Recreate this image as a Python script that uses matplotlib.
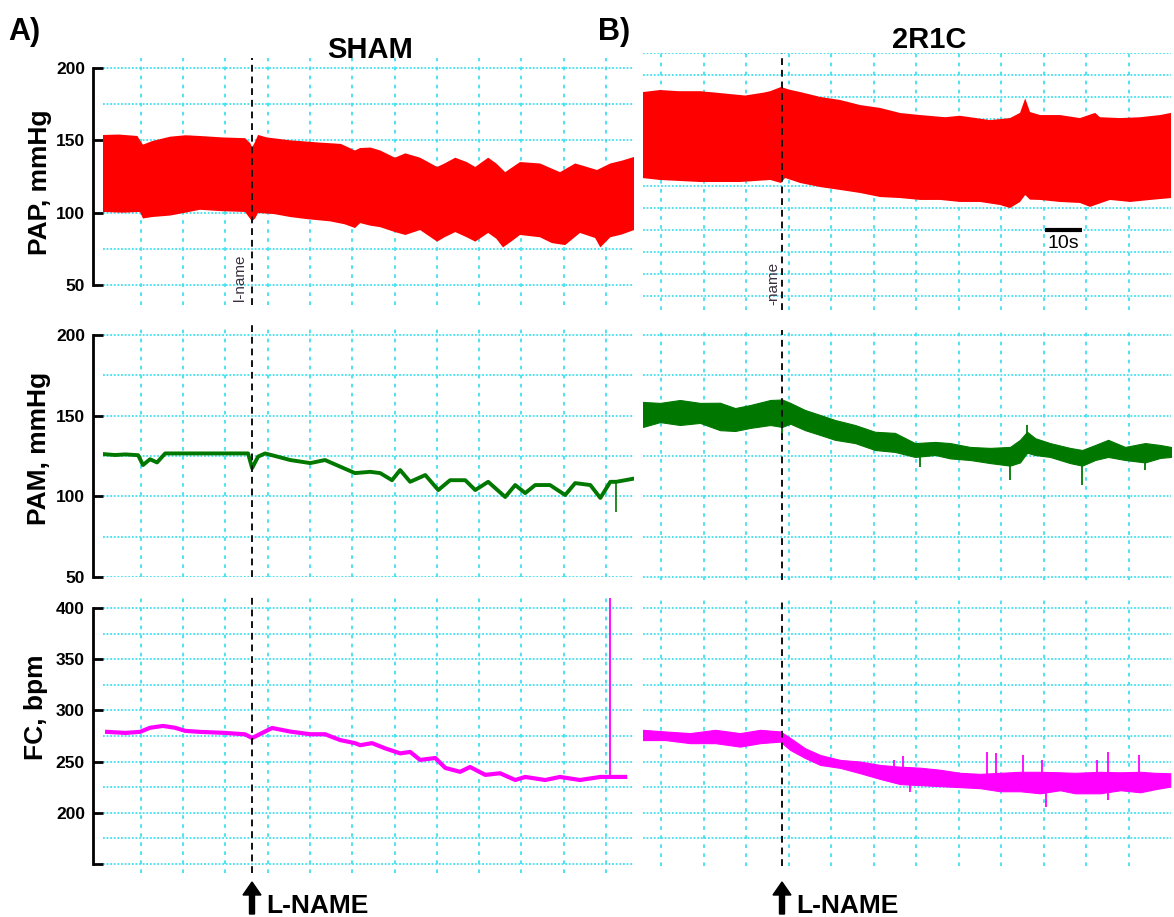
import numpy as np
import matplotlib
matplotlib.use("Agg")
import matplotlib.pyplot as plt
from matplotlib.patches import FancyArrow

plt.rcParams['font.family'] = ['Liberation Sans', 'DejaVu Sans']

# time in s, relative to the L-NAME injection (t = 0)
# ---- SHAM ----
sham_pap_hi_t = [-40.3, -36, -31, -30.3, -29.5, -27, -22.2, -18, -14.1, -8, -1.9, -0.5, 0, 0.8, 1.6, 4,
                 10.3, 13, 18, 21.1, 24, 27.8, 29.2, 32, 34.6, 38.6, 41.4, 45.4, 50.0, 52, 54.9, 58,
                 60.3, 63.8, 66, 68.4, 72.4, 77.8, 80.5, 83.2, 87.3, 90, 93.2, 96.8, 100, 103.2]
sham_pap_hi = [153.7, 154, 153, 150, 147, 149.5, 152.5, 153.5, 153, 152, 151.5, 148, 145, 149, 153.7, 152,
               150, 149.5, 148.5, 148, 147.5, 143, 144.7, 145, 143, 138, 141, 138, 131.6, 134, 138, 135,
               131.6, 138, 134, 128, 135, 134, 131, 128, 134, 132, 129.5, 134, 136, 138.5]
sham_pap_lo_t = [-40.3, -35, -30.3, -29.5, -27, -22.2, -18, -14.1, -8, -1.9, 0, 0.8, 1.6, 6, 10.3, 15,
                 21.1, 25, 27.8, 29.2, 32, 34.6, 38.6, 41.4, 45.4, 50.0, 52, 54.9, 58, 60.3, 63.8, 66,
                 67.8, 70, 72.4, 77.8, 81, 84.6, 88.6, 92.7, 94.1, 96.8, 100, 103.2]
sham_pap_lo = [100.5, 100, 100.5, 96, 97, 98, 100, 102, 101, 100.5, 94, 96, 99.8, 99, 97, 95.5,
               94, 92, 89.4, 92.8, 91, 90, 86.6, 84.6, 88, 80, 83, 86.6, 83, 80, 86, 82,
               76, 80, 84.6, 83, 79, 77.6, 86, 82.5, 76, 83, 85, 88]

sham_pam_t = [-40.3, -37.0, -34.3, -30.8, -29.5, -27.6, -25.7, -23.5, -14.1, -7.3, -1.1, 0, 1.6, 3.5, 6.2,
              10.3, 15.7, 19.7, 23.8, 27.8, 31.9, 34.6, 37.8, 40.0, 42.7, 46.8, 50.3, 53.5, 57.6, 60.3,
              63.8, 68.4, 71.1, 73.8, 76.5, 80.5, 84.6, 87.3, 91.4, 94.1, 96.8, 98.4, 100.8, 103.2]
sham_pam = [126.2, 125.6, 126, 125.5, 119.4, 123, 121, 126.6, 126.6, 126.6, 126.6, 117.5, 124.6, 126.6, 125,
            122.5, 120.6, 122.5, 118.4, 114.4, 115.2, 114.4, 110, 116.3, 109, 113.2, 103.9, 110, 110, 103.9,
            109, 99.6, 107, 102, 107, 107, 100.8, 108.2, 107, 99, 109, 109, 110, 111]
sham_pam_spike = (98.4, 109, 90)

sham_fc_t = [-39.2, -34.3, -30.3, -27.6, -24.1, -20.8, -18.1, -14.1, -7.3, -1.9, 0, 2.2, 5.4, 10.3, 15.7,
             19.7, 23.8, 27.8, 29.2, 32.4, 35.9, 40.0, 42.7, 45.4, 49.5, 52.2, 56.2, 58.9, 63.0, 67.0,
             71.1, 73.8, 79.2, 83.2, 88.6, 94.1, 96.8, 100.8]
sham_fc = [279, 278, 279, 283, 284.8, 283, 280, 279, 278, 276.6, 273, 277, 282.8, 279.3, 276.7,
           276.7, 271, 268, 266, 268, 263, 258, 259.4, 251.6, 253.5, 243.8, 240, 244.7, 237, 238.6,
           232, 235, 232, 235, 232, 235, 235, 235]
sham_fc_spike = (96.8, 235, 410)

# ---- 2R1C ----
r_pap_hi_t = [-37.6, -33.0, -28, -22.2, -16.8, -10.0, -5, -3.2, -0.3, 2, 4.9, 10.3, 15.7, 21.1, 26.5,
              31.9, 37.3, 44.1, 48, 50.8, 56.2, 61.6, 64.3, 65.7, 67.0, 69.7, 75.1, 80.5, 84.6, 85.9,
              91.4, 96.8, 102.2, 105.1]
r_pap_hi = [183.4, 184.8, 184, 184, 182.7, 181, 183, 184, 186.9, 185, 183.4, 180, 177.9, 174.4, 172.4,
            168.9, 167.5, 166, 167, 166, 164, 165.4, 169, 179, 169.6, 167.5, 167.5, 165.4, 169, 166,
            165.4, 166, 167.5, 169]
r_pap_lo_t = [-37.6, -33.0, -22.2, -11.4, -3.2, -0.3, 0.8, 4.9, 10.3, 15.7, 21.1, 26.5, 31.9, 37.3, 42.7,
              48.1, 53.5, 58.9, 61.6, 64.3, 65.7, 67.0, 69.7, 75.1, 80.5, 83.2, 88.6, 94.1, 99.5, 105.1]
r_pap_lo = [123.9, 122.6, 121.2, 121.2, 122.6, 120.5, 124, 120.5, 117.7, 115.7, 113.6, 110.8, 110.1, 108.8, 108.8,
            107.4, 107.4, 105.3, 103.2, 107.4, 112.2, 109, 108.8, 107.4, 106.7, 104, 108.8, 107.4, 108.8, 110.1]

r_pam_t = [-37.6, -33.0, -27.6, -22.2, -16.8, -12.7, -8.6, -3.2, 0, 2.2, 6.2, 10.3, 14.3, 19.7, 25.1,
           30.5, 35.9, 41.4, 45.4, 50.8, 56.2, 61.6, 64.3, 66.2, 68.4, 72.4, 77.8, 81.1, 84.6, 88.1,
           92.7, 98.1, 102.2, 105.1]
r_pam_hi = [158.5, 157.9, 159.7, 157.9, 158, 154.7, 156.6, 159.7, 160, 157.9, 153.5, 150.4, 147.3, 144.2, 140,
            139.3, 133, 133.7, 133, 130.6, 130, 130.6, 135, 140, 136, 133, 130, 128.7, 131.8, 135,
            130.6, 133, 131.8, 130.6]
r_pam_lo = [143, 146, 144.2, 145.5, 141, 140.5, 142.4, 144.2, 143, 145, 141, 138, 135, 133, 128.7,
            127.5, 124.4, 125.6, 123.5, 122.5, 120.6, 119, 121, 127, 125.6, 124.4, 120.6, 119, 122.5, 124.4,
            122.5, 121, 123.8, 124.4]
r_pam_spike_t = [0, 37.3, 61.6, 66.2, 81.1, 98.1]
r_pam_spike_lo = [136, 118, 110, 128, 107, 116]
r_pam_spike_hi = [158, 128, 125, 144, 124, 125]

r_fc_t = [-37.6, -31.6, -24.9, -18.1, -11.4, -5.9, -0.5, 2.2, 6.2, 10.3, 15.7, 21.1, 26.5, 31.9, 37.3,
          42.7, 48.1, 53.5, 58.9, 64.3, 69.7, 75.1, 79.2, 85.9, 91.4, 96.8, 100.8, 104.9]
r_fc_hi = [281, 279.4, 277.8, 281, 277.8, 281, 279.4, 273, 263, 256.4, 251.6, 250, 246.7, 245, 244,
           242, 239, 238, 239, 240, 240, 239.5, 239, 240, 239.5, 240, 239, 238.6]
r_fc_lo = [271, 271, 268, 268, 264.6, 268, 269.5, 261.3, 253.5, 246.7, 243.8, 238.6, 233, 228, 227,
           226, 225, 224, 221, 221, 219, 222, 219, 219, 222, 220, 223, 225.5]
r_fc_spike_t = [30.3, 32.7, 34.6, 55.4, 57.7, 65.0, 70.3, 71.4, 85.0, 88.0, 96.5]
r_fc_spike_lo = [240, 240, 220.6, 225, 225, 225, 225, 206, 225, 212.5, 225]
r_fc_spike_hi = [251.6, 255, 235, 259.4, 258, 256, 251.6, 230, 251.6, 259.4, 256]

RED = '#ff0000'
GREEN = '#007800'
MAGENTA = '#ff00ff'
GRID = '#40e0f0'

W, H = 1174, 917
fig = plt.figure(figsize=(W / 100, H / 100), dpi=100)


def add_ax(x0, y0, x1, y1):
    return fig.add_axes([x0 / W, 1 - y1 / H, (x1 - x0) / W, (y1 - y0) / H])


def style(ax, xlim, ylim, hgrid, vgrid):
    ax.set_xlim(*xlim)
    ax.set_ylim(*ylim)
    for s in ax.spines.values():
        s.set_visible(False)
    ax.set_xticks([])
    ax.set_yticks([])
    for y in hgrid:
        ax.axhline(y, color=GRID, lw=1.3, ls=(0, (1, 1)), zorder=1)
    for x in vgrid:
        ax.axvline(x, color=GRID, lw=1.3, ls=(0, (2, 3)), zorder=1)
    ax.axvline(0, color='#111111', lw=1.4, ls=(0, (3.5, 2.5)), zorder=5)


def left_axis(ax, ticks, labels, lo, hi):
    ax.spines['left'].set_visible(True)
    ax.spines['left'].set_position(('outward', 7))
    ax.spines['left'].set_bounds(lo, hi)
    ax.spines['left'].set_linewidth(2)
    ax.set_yticks(ticks)
    ax.set_yticklabels(labels, fontweight='bold')
    ax.tick_params(axis='y', direction='in', length=7, width=2, pad=6, labelsize=12.5)


xl_left = (-40.3, 103.2)
xl_right = (-37.6, 105.1)
vg_left = -30.08 + 11.43 * np.arange(12)
vg_right = -32.7 + 11.49 * np.arange(12)

# SHAM panels
ax1 = add_ax(103, 58, 634, 305)
style(ax1, xl_left, (36.2, 206.9), np.arange(50, 201, 25), vg_left)
left_axis(ax1, [50, 100, 150, 200], ['50', '100', '150', '200'], 50, 200)
ax1.fill(np.concatenate([sham_pap_hi_t, sham_pap_lo_t[::-1]]),
         np.concatenate([sham_pap_hi, sham_pap_lo[::-1]]), color=RED, lw=0, zorder=3)
ax1.text(-3.2, 54.8, 'l-name', rotation=90, ha='center', va='center', fontsize=11, color='#3a3040')

ax2 = add_ax(103, 325, 634, 577)
style(ax2, xl_left, (50, 206.2), np.arange(50, 201, 25), vg_left)
left_axis(ax2, [50, 100, 150, 200], ['50', '100', '150', '200'], 50, 200)
ax2.plot(sham_pam_t, sham_pam, color=GREEN, lw=2.8, zorder=3)
ax2.vlines(sham_pam_spike[0], sham_pam_spike[2], sham_pam_spike[1], color=GREEN, lw=1.2, zorder=3)

ax3 = add_ax(103, 597, 634, 873)
style(ax3, xl_left, (141.2, 410.7), np.arange(150, 401, 25), vg_left)
left_axis(ax3, [150, 200, 250, 300, 350, 400], ['', '200', '250', '300', '350', '400'], 150, 400)
ax3.plot(sham_fc_t, sham_fc, color=MAGENTA, lw=3, zorder=3)
ax3.vlines(sham_fc_spike[0], sham_fc_spike[1], sham_fc_spike[2], color=MAGENTA, lw=1.3, zorder=3)

# 2R1C panels
ax4 = add_ax(643, 53, 1171, 310)
style(ax4, xl_right, (32.7, 210.4), 210.4 - 15.28 * np.arange(12), vg_right)
ax4.fill(np.concatenate([r_pap_hi_t, r_pap_lo_t[::-1]]),
         np.concatenate([r_pap_hi, r_pap_lo[::-1]]), color=RED, lw=0, zorder=3)
ax4.hlines(88, 71.1, 81.1, color='k', lw=3, zorder=6)
ax4.text(76.1, 79, '10s', ha='center', va='center', fontsize=14)
ax4.text(-2.4, 51.4, '-name', rotation=90, ha='center', va='center', fontsize=11, color='#3a3040')

ax5 = add_ax(643, 330, 1171, 580)
style(ax5, xl_right, (48.1, 203.1), np.arange(50, 201, 25), vg_right)
ax5.fill_between(r_pam_t, r_pam_lo, r_pam_hi, color=GREEN, lw=0.8, zorder=3)
ax5.vlines(r_pam_spike_t, r_pam_spike_lo, r_pam_spike_hi, color=GREEN, lw=1.3, zorder=3)

ax6 = add_ax(643, 600, 1171, 866)
style(ax6, xl_right, (148, 407.8), np.arange(175, 401, 25), vg_right)
ax6.fill_between(r_fc_t, r_fc_lo, r_fc_hi, color=MAGENTA, lw=0.8, zorder=3)
ax6.vlines(r_fc_spike_t, r_fc_spike_lo, r_fc_spike_hi, color=MAGENTA, lw=1.3, zorder=3)


def ftext(x, y, s, **kw):
    fig.text(x / W, 1 - y / H, s, **kw)


ftext(8, 40, 'A)', fontsize=22, fontweight='bold', va='baseline')
ftext(598, 40, 'B)', fontsize=22, fontweight='bold', va='baseline')
ftext(370, 58, 'SHAM', fontsize=21, fontweight='bold', ha='center', va='baseline')
ftext(929, 48, '2R1C', fontsize=21, fontweight='bold', ha='center', va='baseline')

ftext(40, 182, 'PAP, mmHg', fontsize=19, fontweight='bold', rotation=90, ha='center', va='center')
ftext(39, 448, 'PAM, mmHg', fontsize=19, fontweight='bold', rotation=90, ha='center', va='center')
ftext(36, 707, 'FC, bpm', fontsize=19, fontweight='bold', rotation=90, ha='center', va='center')

for xa, xt in [(252, 266), (782, 796)]:
    fig.add_artist(FancyArrow(xa / 100, (H - 914) / 100, 0, 0.32, width=0.05, head_width=0.18,
                              head_length=0.13, length_includes_head=True, color='k',
                              transform=fig.dpi_scale_trans))
    ftext(xt, 913, 'L-NAME', fontsize=19, fontweight='bold', va='baseline')

fig.savefig('out.png', dpi=100)
